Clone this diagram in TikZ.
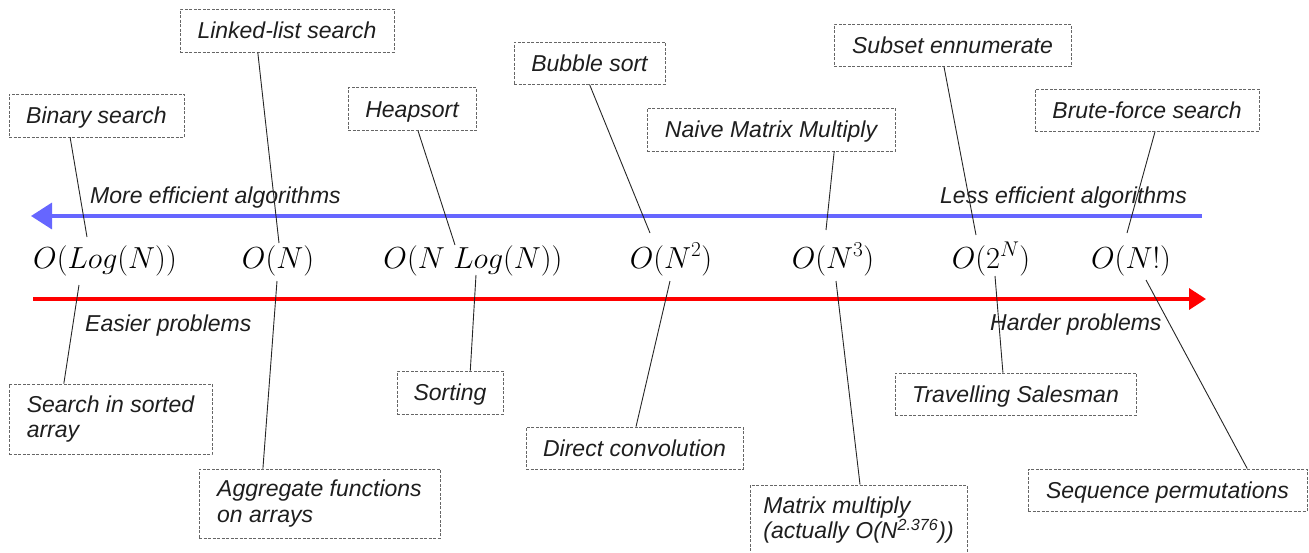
\RequirePackage{fix-cm}
\documentclass[tikz,border=0pt]{standalone}
\usepackage[no-math]{fontspec}
\setmainfont{Liberation Sans}
\usetikzlibrary{arrows.meta,calc}

\definecolor{axisblue}{RGB}{102,102,255}
\definecolor{axisred}{RGB}{255,0,0}
\definecolor{inkgray}{RGB}{30,30,30}

\tikzset{
  algbox/.style={draw=black!60, dash pattern=on 3pt off 1.5pt, line width=0.8pt,
    inner sep=0pt, text=inkgray, font=\fontsize{23}{25.5}\selectfont\itshape},
  oneline/.style={algbox, text height=16.5pt, text depth=0pt},
  twoline/.style={algbox, align=left},
  cplx/.style={inner sep=0pt, anchor=base, text=black,
    font=\fontsize{30.4}{36}\selectfont},
  axislabel/.style={inner sep=0pt, anchor=base west, text=inkgray,
    font=\fontsize{23}{25.5}\selectfont\itshape},
  leader/.style={draw=black!85, line width=0.9pt},
}

\begin{document}
\begin{tikzpicture}[x=1pt, y=-1pt]
\useasboundingbox (0,0) rectangle (1309,552);

% complexity classes along the scale
\node[cplx] (olog)  at (105,268)  {$O(Log(N))$};
\node[cplx] (on)    at (278,268)  {$O(N)$};
\node[cplx] (onlog) at (473,268)  {$O(N\ Log(N))$};
\node[cplx] (on2)   at (671,268)  {$O(N^2)$};
\node[cplx] (on3)   at (833,268)  {$O(N^3)$};
\node[cplx] (o2n)   at (991,268)  {$O(2^N)$};
\node[cplx] (ofac)  at (1131,268) {$O(N!)$};

% the two direction arrows
\coordinate (blueR) at (1202,216);
\coordinate (blueL) at (31,216);
\coordinate (redL)  at (33,299);
\coordinate (redR)  at (1206,299);
\draw[line width=3.5pt, axisblue, -{Triangle[length=21pt,width=26pt]}] (blueR) -- (blueL);
\draw[line width=3.5pt, axisred, -{Triangle[length=17pt,width=21pt]}] (redL) -- (redR);

\node[axislabel] (more)   at (90,203)  {More efficient algorithms};
\node[axislabel] (less)   at (940,203) {Less efficient algorithms};
\node[axislabel] (easier) at (85,331)  {Easier problems};
\node[axislabel] (harder) at (990,330) {Harder problems};

% algorithm boxes (above)
\node[oneline, minimum width=175pt, minimum height=43pt] (bin)    at (96.5,115.5) {Binary search};
\node[oneline, minimum width=214pt, minimum height=43pt] (lls)    at (287,30.5)   {Linked-list search};
\node[oneline, minimum width=128pt, minimum height=43pt] (heap)   at (412,109)    {Heapsort};
\node[oneline, minimum width=151pt, minimum height=42pt] (bub)    at (589.5,63)   {Bubble sort};
\node[oneline, minimum width=248pt, minimum height=43pt] (naive)  at (771,129.5)  {Naive Matrix Multiply};
\node[oneline, minimum width=237pt, minimum height=42pt] (subset) at (952.5,45)   {Subset ennumerate};
\node[oneline, minimum width=224pt, minimum height=42pt] (brute)  at (1147,110)   {Brute-force search};

% problem boxes (below)
\node[twoline, minimum width=203pt, minimum height=70pt] (sarr)  at (110.5,419)  {Search in sorted\\array};
\node[twoline, minimum width=241pt, minimum height=69pt] (agg)   at (319.5,503.5){Aggregate functions\\on arrays};
\node[oneline, minimum width=106pt, minimum height=43pt] (sort)  at (450,392.5)  {Sorting};
\node[oneline, minimum width=217pt, minimum height=42pt] (conv)  at (634.5,448)  {Direct convolution};
\node[twoline, minimum width=217pt, minimum height=70pt] (mmul)  at (858.5,520)  {Matrix multiply\\(actually O(N\textsuperscript{2.376}))};
\node[oneline, minimum width=241pt, minimum height=42pt] (tsp)   at (1015.5,394) {Travelling Salesman};
\node[oneline, minimum width=279pt, minimum height=42pt] (perm)  at (1167.5,490) {Sequence permutations};

% leader ends next to the complexity labels
\coordinate (a1) at (87,237);
\coordinate (a2) at (279,243);
\coordinate (a3) at (455,245);
\coordinate (a4) at (650,233);
\coordinate (a5) at (826,230);
\coordinate (a6) at (976,235);
\coordinate (a7) at (1127,233);
\coordinate (b1) at (79,285);
\coordinate (b2) at (277,281);
\coordinate (b3) at (476,275);
\coordinate (b4) at (670,281);
\coordinate (b5) at (836,281);
\coordinate (b6) at (995,276);
\coordinate (b7) at (1146,280);

% leaders from the algorithm boxes
\draw[leader] ($(bin.south west)!0.35!(bin.south east)$)       -- (a1);
\draw[leader] ($(lls.south west)!0.364!(lls.south east)$)      -- (a2);
\draw[leader] ($(heap.south west)!0.547!(heap.south east)$)    -- (a3);
\draw[leader] (bub.south)                                      -- (a4);
\draw[leader] ($(naive.south west)!0.754!(naive.south east)$)  -- (a5);
\draw[leader] ($(subset.south west)!0.464!(subset.south east)$)-- (a6);
\draw[leader] ($(brute.south west)!0.536!(brute.south east)$)  -- (a7);

% leaders to the problem boxes
\draw[leader] (b1) -- ($(sarr.north west)!0.271!(sarr.north east)$);
\draw[leader] (b2) -- ($(agg.north west)!0.266!(agg.north east)$);
\draw[leader] (b3) -- ($(sort.north west)!0.69!(sort.north east)$);
\draw[leader] (b4) -- ($(conv.north west)!0.507!(conv.north east)$);
\draw[leader] (b5) -- ($(mmul.north west)!0.507!(mmul.north east)$);
\draw[leader] (b6) -- ($(tsp.north west)!0.448!(tsp.north east)$);
\draw[leader] (b7) -- ($(perm.north west)!0.785!(perm.north east)$);
\end{tikzpicture}
\end{document}
